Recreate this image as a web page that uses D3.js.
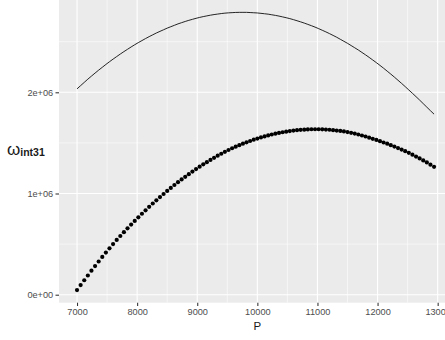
<!DOCTYPE html>
<html>
<head>
<meta charset="utf-8">
<script src="https://cdn.jsdelivr.net/npm/d3@7"></script>
<style>
  html, body { margin: 0; padding: 0; background: #ffffff; }
  svg { display: block; }
  text { font-family: "Liberation Sans", Arial, sans-serif; }
</style>
</head>
<body>
<svg id="chart" width="445" height="340"></svg>
<script>
// ---- data ----
const P = [
  7000,7060,7120,7180,7240,7300,7360,7420,7480,7540,
  7600,7660,7720,7780,7840,7900,7960,8020,8080,8140,
  8200,8260,8320,8380,8440,8500,8560,8620,8680,8740,
  8800,8860,8920,8980,9040,9100,9160,9220,9280,9340,
  9400,9460,9520,9580,9640,9700,9760,9820,9880,9940,
  10000,10060,10120,10180,10240,10300,10360,10420,10480,10540,
  10600,10660,10720,10780,10840,10900,10960,11020,11080,11140,
  11200,11260,11320,11380,11440,11500,11560,11620,11680,11740,
  11800,11860,11920,11980,12040,12100,12160,12220,12280,12340,
  12400,12460,12520,12580,12640,12700,12760,12820,12880,12940
];
// points series (millions)
const omegaPoints = [
  0.046,0.095,0.143,0.190,0.237,0.283,0.328,0.373,0.416,0.458,
  0.500,0.541,0.580,0.618,0.656,0.693,0.729,0.765,0.800,0.834,
  0.868,0.901,0.933,0.965,0.995,1.025,1.055,1.084,1.112,1.139,
  1.165,1.191,1.217,1.241,1.265,1.288,1.310,1.332,1.353,1.374,
  1.393,1.412,1.430,1.447,1.463,1.478,1.492,1.506,1.519,1.532,
  1.543,1.554,1.564,1.574,1.583,1.591,1.599,1.605,1.611,1.617,
  1.622,1.626,1.629,1.631,1.633,1.635,1.635,1.635,1.634,1.632,
  1.630,1.626,1.622,1.618,1.613,1.607,1.600,1.592,1.583,1.573,
  1.563,1.552,1.540,1.529,1.517,1.504,1.492,1.478,1.464,1.449,
  1.434,1.418,1.402,1.384,1.365,1.347,1.327,1.307,1.285,1.264
];
// line series (millions)
const omegaLine = [
  2.034,2.066,2.098,2.130,2.160,2.190,2.219,2.247,2.275,2.302,
  2.328,2.353,2.378,2.402,2.425,2.448,2.470,2.491,2.511,2.531,
  2.550,2.568,2.586,2.602,2.618,2.634,2.648,2.662,2.676,2.688,
  2.700,2.711,2.721,2.731,2.740,2.748,2.755,2.762,2.768,2.773,
  2.778,2.782,2.785,2.787,2.789,2.790,2.790,2.790,2.788,2.786,
  2.784,2.780,2.776,2.772,2.766,2.760,2.753,2.745,2.737,2.728,
  2.718,2.707,2.696,2.684,2.671,2.658,2.644,2.629,2.613,2.597,
  2.580,2.562,2.544,2.524,2.504,2.484,2.462,2.440,2.418,2.394,
  2.370,2.345,2.319,2.293,2.266,2.238,2.209,2.180,2.150,2.119,
  2.088,2.056,2.023,1.990,1.957,1.923,1.888,1.853,1.818,1.784
];
const xTicks = [7000,8000,9000,10000,11000,12000,13000];
const xMinor = [7500,8500,9500,10500,11500,12500];
const yTicks = [0,1e6,2e6];
const yTickLabels = ["0e+00","1e+06","2e+06"];
const yMinor = [0.5e6,1.5e6,2.5e6];
const xTitle = "P";

// ---- layout ----
const svg = d3.select("#chart");
const panel = { left: 59, top: 0, right: 455.7, bottom: 302.7 };

const x = d3.scaleLinear().domain([6700, 13300]).range([panel.left, panel.right]);
const y = d3.scaleLinear().domain([-0.079e6, 2.912e6]).range([panel.bottom, panel.top]);

// panel background
svg.append("rect")
  .attr("x", panel.left).attr("y", panel.top)
  .attr("width", panel.right - panel.left).attr("height", panel.bottom - panel.top)
  .attr("fill", "#EBEBEB");

const grid = svg.append("g");
// minor grid
grid.selectAll(".xm").data(xMinor).join("line")
  .attr("x1", d => x(d)).attr("x2", d => x(d))
  .attr("y1", panel.top).attr("y2", panel.bottom)
  .attr("stroke", "#ffffff").attr("stroke-width", 0.55);
grid.selectAll(".ym").data(yMinor).join("line")
  .attr("y1", d => y(d)).attr("y2", d => y(d))
  .attr("x1", panel.left).attr("x2", panel.right)
  .attr("stroke", "#ffffff").attr("stroke-width", 0.55);
// major grid
grid.selectAll(".xM").data(xTicks).join("line")
  .attr("x1", d => x(d)).attr("x2", d => x(d))
  .attr("y1", panel.top).attr("y2", panel.bottom)
  .attr("stroke", "#ffffff").attr("stroke-width", 1.1);
grid.selectAll(".yM").data(yTicks).join("line")
  .attr("y1", d => y(d)).attr("y2", d => y(d))
  .attr("x1", panel.left).attr("x2", panel.right)
  .attr("stroke", "#ffffff").attr("stroke-width", 1.1);

// data
const lineData = P.map((p, i) => ({ p, v: omegaLine[i] * 1e6 }));
const pointData = P.map((p, i) => ({ p, v: omegaPoints[i] * 1e6 }));

svg.append("path")
  .datum(lineData)
  .attr("fill", "none")
  .attr("stroke", "#000000")
  .attr("stroke-width", 0.85)
  .attr("d", d3.line().x(d => x(d.p)).y(d => y(d.v)));

svg.append("g").selectAll("circle").data(pointData).join("circle")
  .attr("cx", d => x(d.p)).attr("cy", d => y(d.v))
  .attr("r", 2.1).attr("fill", "#000000");

// axes
const xAxis = d3.axisBottom(x).tickValues(xTicks).tickSize(3.3).tickPadding(2.5).tickFormat(d3.format("d"));
const gx = svg.append("g").attr("transform", `translate(0,${panel.bottom})`).call(xAxis);
gx.select(".domain").remove();
gx.selectAll(".tick line").attr("stroke", "#333333").attr("stroke-width", 1.07);
gx.selectAll(".tick text").attr("fill", "#4D4D4D").attr("font-size", "9.2px")
  .attr("font-family", "Liberation Sans, Arial, sans-serif");

const yAxis = d3.axisLeft(y).tickValues(yTicks).tickSize(3.5).tickPadding(2.3)
  .tickFormat((d, i) => yTickLabels[i]);
const gy = svg.append("g").attr("transform", `translate(${panel.left},0)`).call(yAxis);
gy.select(".domain").remove();
gy.selectAll(".tick line").attr("stroke", "#333333").attr("stroke-width", 1.07);
gy.selectAll(".tick text").attr("fill", "#4D4D4D").attr("font-size", "9.2px")
  .attr("font-family", "Liberation Sans, Arial, sans-serif");

// x title
svg.append("text")
  .attr("x", x(10000)).attr("y", 330)
  .attr("text-anchor", "middle")
  .attr("font-size", "11.5px")
  .attr("fill", "#1a1a1a")
  .text(xTitle);

// y title: omega with bold subscript
const yt = svg.append("text")
  .attr("x", 7).attr("y", 154.5)
  .attr("fill", "#1a1a1a");
yt.append("tspan").attr("font-size", "17px").text("ω");
yt.append("tspan").attr("font-size", "10.5px").attr("font-weight", "bold")
  .attr("dy", 1.5).text("int31");
</script>
</body>
</html>
